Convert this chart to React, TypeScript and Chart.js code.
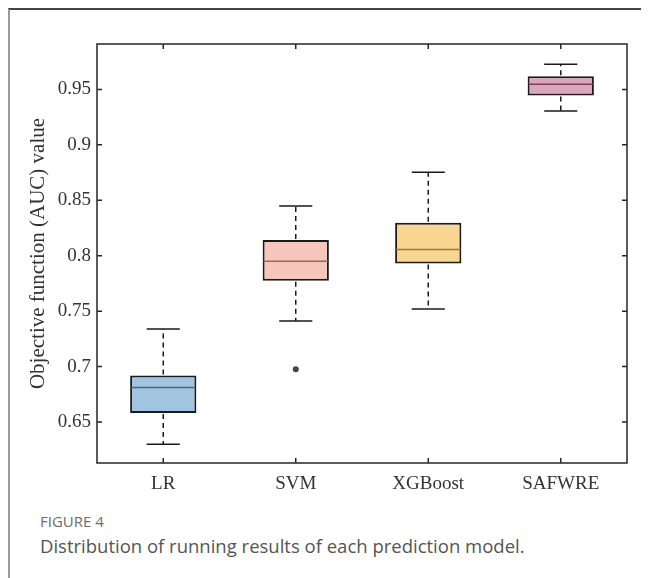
import React, { useEffect, useRef } from "react";
import { Chart, registerables } from "chart.js";

Chart.register(...registerables);

const categories = ["LR", "SVM", "XGBoost", "SAFWRE"];
const whiskerLow = [0.63, 0.741, 0.752, 0.9305];
const q1 = [0.658, 0.7775, 0.793, 0.9445];
const medians = [0.681, 0.795, 0.8055, 0.9548];
const q3 = [0.692, 0.8141, 0.8297, 0.962];
const whiskerHigh = [0.734, 0.8448, 0.8754, 0.9728];
const outliers = [null, 0.6975, null, null];
const yTicks = [0.65, 0.7, 0.75, 0.8, 0.85, 0.9, 0.95];

const fills = ["#a3c4e0", "#f7c6bb", "#f9d592", "#dba5ba"];
const medianColors = ["#3b6a90", "#a0625a", "#a87a2c", "#7e3e5a"];

const boxPlugin = {
  id: "boxExtras",
  afterDatasetsDraw(chart: any) {
    const ctx = chart.ctx;
    const y = chart.scales.y;
    const meta = chart.getDatasetMeta(0);
    ctx.save();
    meta.data.forEach((bar: any, i: number) => {
      const cx = bar.x;
      const half = bar.width / 2;
      const capHalf = half / 2;
      const pTop = y.getPixelForValue(q3[i]);
      const pBot = y.getPixelForValue(q1[i]);
      const pHi = y.getPixelForValue(whiskerHigh[i]);
      const pLo = y.getPixelForValue(whiskerLow[i]);
      const pMed = y.getPixelForValue(medians[i]);
      ctx.strokeStyle = "#1a1a1a";
      ctx.lineWidth = 1.5;
      ctx.setLineDash([5, 4]);
      ctx.beginPath();
      ctx.moveTo(cx, pTop - 1);
      ctx.lineTo(cx, pHi);
      ctx.moveTo(cx, pBot + 1);
      ctx.lineTo(cx, pLo);
      ctx.stroke();
      ctx.setLineDash([]);
      ctx.beginPath();
      ctx.moveTo(cx - capHalf, pHi);
      ctx.lineTo(cx + capHalf, pHi);
      ctx.moveTo(cx - capHalf, pLo);
      ctx.lineTo(cx + capHalf, pLo);
      ctx.stroke();
      ctx.strokeStyle = medianColors[i];
      ctx.lineWidth = 1.5;
      ctx.beginPath();
      ctx.moveTo(cx - half + 1, pMed);
      ctx.lineTo(cx + half - 1, pMed);
      ctx.stroke();
    });
    const a = chart.chartArea;
    ctx.strokeStyle = "#262626";
    ctx.lineWidth = 1.5;
    ctx.strokeRect(a.left, a.top, a.right - a.left, a.bottom - a.top);
    ctx.beginPath();
    yTicks.forEach((v) => {
      const py = y.getPixelForValue(v);
      ctx.moveTo(a.left, py);
      ctx.lineTo(a.left + 5, py);
      ctx.moveTo(a.right, py);
      ctx.lineTo(a.right - 5, py);
    });
    meta.data.forEach((bar: any) => {
      ctx.moveTo(bar.x, a.bottom);
      ctx.lineTo(bar.x, a.bottom - 5);
      ctx.moveTo(bar.x, a.top);
      ctx.lineTo(bar.x, a.top + 5);
    });
    ctx.stroke();
    ctx.restore();
  },
};

export default function App() {
  const ref = useRef<HTMLCanvasElement>(null);
  useEffect(() => {
    if (!ref.current) return;
    const chart = new Chart(ref.current, {
      type: "bar",
      data: {
        labels: categories,
        datasets: [
          {
            type: "bar",
            data: categories.map((_, i) => [q1[i], q3[i]]) as any,
            backgroundColor: fills,
            borderColor: "#1a1a1a",
            borderWidth: 2,
            borderSkipped: false,
            barPercentage: 0.5,
            categoryPercentage: 1,
          },
          {
            type: "line",
            data: outliers as any,
            showLine: false,
            pointRadius: 3,
            pointBackgroundColor: "#444",
            pointBorderColor: "#444",
            pointBorderWidth: 0,
          } as any,
        ],
      },
      options: {
        animation: false,
        responsive: false,
        maintainAspectRatio: false,
        layout: { padding: { top: 34, right: 22, left: 0, bottom: 0 } },
        plugins: { legend: { display: false }, tooltip: { enabled: false } },
        scales: {
          x: {
            type: "category",
            grid: { display: false, drawTicks: false },
            border: { display: false },
            ticks: {
              padding: 10,
              color: "#333",
              font: { family: "Liberation Serif", size: 19 },
            },
            afterFit: (s: any) => {
              s.height = 47;
            },
          },
          y: {
            type: "linear",
            min: 0.613,
            max: 0.991,
            grid: { display: false, drawTicks: false },
            border: { display: false },
            afterBuildTicks: (s: any) => {
              s.ticks = yTicks.map((v) => ({ value: v }));
            },
            ticks: {
              padding: 6,
              color: "#333",
              font: { family: "Liberation Serif", size: 19 },
              callback: (v: any) => String(v),
            },
            title: {
              display: true,
              text: "Objective function (AUC) value",
              color: "#333",
              font: { family: "Liberation Serif", size: 21 },
              padding: { top: 16, bottom: 0 },
            },
            afterFit: (s: any) => {
              s.width = 87;
            },
          },
        },
      },
      plugins: [boxPlugin],
    });
    return () => chart.destroy();
  }, []);

  return (
    <div
      style={{
        position: "relative",
        marginRight: -8,
        height: 568,
        borderTop: "2px solid #444",
        borderLeft: "2px solid #9a9a9a",
        background: "#fff",
      }}
    >
      <canvas
        ref={ref}
        width={639}
        height={500}
        style={{ position: "absolute", left: 0, top: 0, width: 639, height: 500 }}
      />
      <div
        style={{
          position: "absolute",
          left: 30,
          top: 502,
          fontFamily: "Open Sans",
          fontSize: 15,
          lineHeight: "18px",
          color: "#6b6b6b",
          whiteSpace: "nowrap",
        }}
      >
        FIGURE 4
      </div>
      <div
        style={{
          position: "absolute",
          left: 30,
          top: 524,
          fontFamily: "Open Sans",
          fontSize: 18.5,
          lineHeight: "24px",
          color: "#555",
          whiteSpace: "nowrap",
        }}
      >
        Distribution of running results of each prediction model.
      </div>
    </div>
  );
}
